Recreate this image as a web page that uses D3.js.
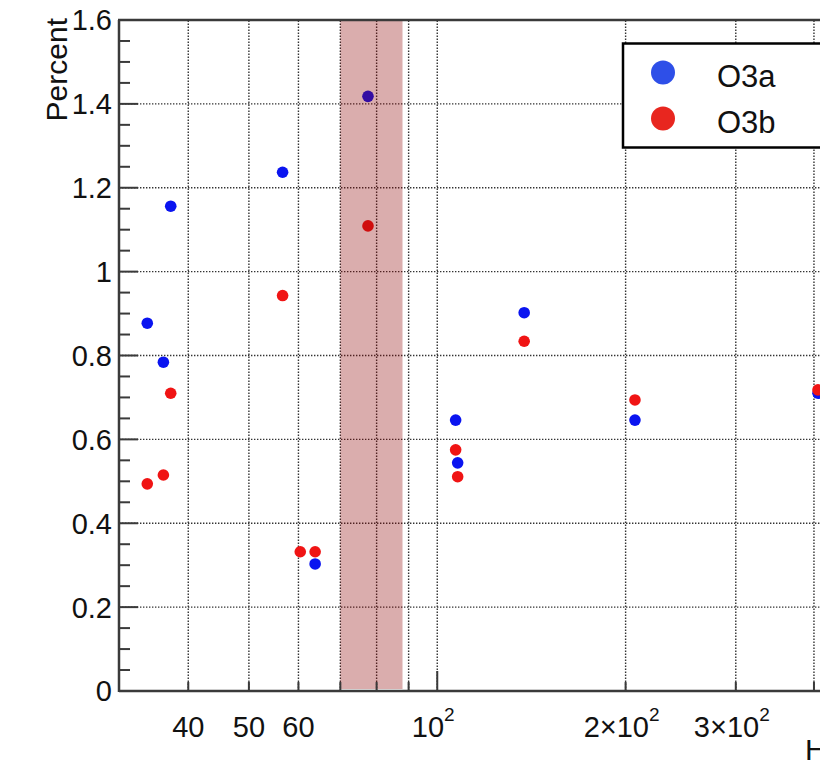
<!DOCTYPE html>
<html>
<head>
<meta charset="utf-8">
<script src="https://cdn.jsdelivr.net/npm/d3@7"></script>
<style>
  body { margin: 0; background: #fff; overflow: hidden; }
  svg { display: block; }
  text { font-family: "Liberation Sans", Arial, Helvetica, sans-serif; fill: #111; }
</style>
</head>
<body>
<div id="chart"></div>
<script>
// frequency of each point (Hz) and percent values
const freqA = [34.4, 36.5, 37.5, 56.6, 63.8, 77.5, 107, 107.8, 137.7, 207, 406];
const o3a = [0.877, 0.784, 1.156, 1.237, 0.303, 1.418, 0.646, 0.544, 0.902, 0.646, 0.710];
const freqB = [34.4, 36.5, 37.5, 56.6, 60.4, 63.8, 77.5, 107, 107.8, 137.7, 207, 406];
const o3b = [0.494, 0.515, 0.710, 0.943, 0.332, 0.332, 1.109, 0.575, 0.511, 0.834, 0.694, 0.718];

const seriesNames = ['O3a', 'O3b'];
const band = [70, 88];

const xMajor = [100];
const xMinor = [40, 50, 60, 70, 80, 90, 200, 300, 400];
const xLabels = [
  { v: 40, t: '40' }, { v: 50, t: '50' }, { v: 60, t: '60' },
  { v: 100, t: '10', sup: '2' }, { v: 200, t: '2\u00d710', sup: '2' }, { v: 300, t: '3\u00d710', sup: '2' }
];
const yTicks = [0, 0.2, 0.4, 0.6, 0.8, 1, 1.2, 1.4, 1.6];

const width = 820;
const height = 767;
const colors = { O3a: '#0a14f0', O3b: '#f01414' };
const legendColors = { O3a: '#2e4fe8', O3b: '#e8261f' };

const svg = d3.select('#chart')
  .append('svg')
  .attr('width', width)
  .attr('height', height);

const x = d3.scaleLog().domain([31, 500]).range([119, 874.6]);
const y = d3.scaleLinear().domain([0, 1.6]).range([691, 20]);

const plotLeft = x.range()[0];
const plotBottom = y(0);
const plotTop = y(1.6);

// grid
const grid = svg.append('g')
  .attr('stroke', '#333')
  .attr('stroke-width', 1.4)
  .attr('stroke-dasharray', '1.4 1.6');

grid.selectAll('.gx')
  .data(xMajor.concat(xMinor))
  .enter()
  .append('line')
  .attr('x1', d => x(d)).attr('x2', d => x(d))
  .attr('y1', plotBottom).attr('y2', plotTop);

grid.selectAll('.gy')
  .data(yTicks.filter(d => d > 0 && d < 1.6))
  .enter()
  .append('line')
  .attr('x1', plotLeft).attr('x2', width)
  .attr('y1', d => y(d)).attr('y2', d => y(d));

// points
const pointsA = freqA.map((f, i) => ({ f: f, v: o3a[i], s: 'O3a' }));
const pointsB = freqB.map((f, i) => ({ f: f, v: o3b[i], s: 'O3b' }));

svg.append('g')
  .selectAll('circle')
  .data(pointsA.concat(pointsB))
  .enter()
  .append('circle')
  .attr('cx', d => x(d.f))
  .attr('cy', d => y(d.v))
  .attr('r', 5.8)
  .attr('fill', d => colors[d.s]);

// shaded band drawn over the points
svg.append('rect')
  .attr('x', x(band[0]))
  .attr('y', plotTop)
  .attr('width', x(band[1]) - x(band[0]))
  .attr('height', plotBottom - 2 - plotTop)
  .attr('fill', 'rgb(139,0,0)')
  .attr('opacity', 0.32);

// axes
const axisColor = '#3a3a3a';
const axes = svg.append('g').attr('stroke', axisColor);

axes.append('line')
  .attr('x1', plotLeft).attr('x2', width)
  .attr('y1', plotBottom).attr('y2', plotBottom)
  .attr('stroke-width', 2.5);
axes.append('line')
  .attr('x1', plotLeft - 1).attr('x2', width)
  .attr('y1', plotTop).attr('y2', plotTop)
  .attr('stroke-width', 2.5);
axes.append('line')
  .attr('x1', plotLeft).attr('x2', plotLeft)
  .attr('y1', plotTop).attr('y2', plotBottom + 1)
  .attr('stroke-width', 2.5);

axes.selectAll('.xmaj')
  .data(xMajor)
  .enter()
  .append('line')
  .attr('x1', d => x(d)).attr('x2', d => x(d))
  .attr('y1', plotBottom).attr('y2', plotBottom - 20)
  .attr('stroke-width', 2);

axes.selectAll('.xmin')
  .data(xMinor)
  .enter()
  .append('line')
  .attr('x1', d => x(d)).attr('x2', d => x(d))
  .attr('y1', plotBottom).attr('y2', plotBottom - 9)
  .attr('stroke-width', 2);

const yMinor = d3.range(0, 1.6001, 0.05).filter(d => Math.abs(d * 5 - Math.round(d * 5)) > 1e-6);

axes.selectAll('.ymaj')
  .data(yTicks)
  .enter()
  .append('line')
  .attr('x1', plotLeft).attr('x2', plotLeft + 19)
  .attr('y1', d => y(d)).attr('y2', d => y(d))
  .attr('stroke-width', 2);

axes.selectAll('.ymin')
  .data(yMinor)
  .enter()
  .append('line')
  .attr('x1', plotLeft).attr('x2', plotLeft + 11)
  .attr('y1', d => y(d)).attr('y2', d => y(d))
  .attr('stroke-width', 2);

// tick labels
svg.selectAll('.ylab')
  .data(yTicks)
  .enter()
  .append('text')
  .attr('x', 112)
  .attr('y', d => y(d))
  .attr('dy', '0.36em')
  .attr('text-anchor', 'end')
  .style('font-size', '29px')
  .text(d => d3.format('~g')(d));

const xl = svg.selectAll('.xlab')
  .data(xLabels)
  .enter()
  .append('text')
  .attr('x', d => x(d.v) + (d.sup ? -4 : 0))
  .attr('y', 737)
  .attr('text-anchor', 'middle')
  .style('font-size', '29px');

xl.append('tspan').text(d => d.t);
xl.filter(d => d.sup)
  .append('tspan')
  .attr('dy', -16)
  .style('font-size', '19px')
  .text(d => d.sup);

// axis titles
svg.append('text')
  .attr('transform', 'translate(67,18) rotate(-90)')
  .attr('text-anchor', 'end')
  .style('font-size', '30px')
  .text('Percent');

svg.append('text')
  .attr('x', 805)
  .attr('y', 760)
  .style('font-size', '30px')
  .text('Hz');

// legend
const legend = svg.append('g');

legend.append('rect')
  .attr('x', 623)
  .attr('y', 43.5)
  .attr('width', 260)
  .attr('height', 104)
  .attr('fill', '#fff')
  .attr('stroke', '#000')
  .attr('stroke-width', 2.5);

const entries = legend.selectAll('.entry')
  .data(seriesNames)
  .enter()
  .append('g')
  .attr('transform', (d, i) => `translate(0,${i * 46})`);

entries.append('circle')
  .attr('cx', 663)
  .attr('cy', 72.5)
  .attr('r', 12)
  .attr('fill', d => legendColors[d]);

entries.append('text')
  .attr('x', 717)
  .attr('y', 86.5)
  .style('font-size', '31px')
  .text(d => d);
</script>
</body>
</html>
